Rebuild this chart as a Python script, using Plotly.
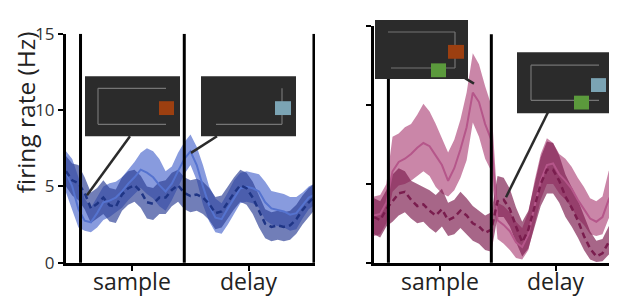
import plotly.graph_objects as go

# time grid (ms relative to sample onset)
time_ms = [-70 + 30 * k for k in range(41)]

# Left panel (blue)
left_solid_mean = [5.9, 5.0, 3.5, 2.75, 2.65, 3.25, 3.96, 4.07, 4.27, 4.67, 5.18, 5.6, 6.1, 5.9, 5.6, 5.08, 4.67, 5.18, 6.0, 6.8,
                   7.3, 6.4, 5.0, 3.76, 2.95, 2.85, 3.56, 4.27, 4.88, 4.98, 4.88, 4.67, 3.96, 3.56, 3.46, 3.36, 3.15, 3.25, 3.76, 4.27, 4.47]
left_solid_hi = [7.3, 6.8, 5.6, 4.2, 3.6, 4.3, 5.0, 5.2, 5.3, 5.6, 6.1, 6.6, 7.2, 7.5, 7.3, 6.8, 6.0, 6.3, 7.2, 7.9,
                 8.4, 7.6, 6.4, 5.0, 4.2, 3.9, 4.6, 5.4, 5.9, 6.0, 5.9, 5.8, 5.3, 4.7, 4.6, 4.5, 4.3, 4.3, 4.6, 5.0, 5.2]
left_solid_lo = [4.6, 3.5, 2.3, 2.1, 2.0, 2.3, 2.8, 3.0, 3.3, 3.6, 4.1, 4.5, 4.9, 4.5, 4.2, 3.7, 3.4, 4.1, 4.9, 5.8,
                 6.4, 5.4, 3.8, 2.7, 2.0, 1.9, 2.5, 3.2, 3.9, 4.0, 3.9, 3.6, 2.8, 2.5, 2.4, 2.3, 2.1, 2.2, 2.9, 3.5, 3.8]
left_dash_mean = [6.0, 5.4, 5.2, 4.57, 3.56, 3.86, 4.27, 3.76, 3.66, 4.47, 4.88, 5.08, 4.67, 3.96, 3.86, 4.27, 4.27, 4.77, 5.08, 4.57,
                  4.37, 4.47, 4.27, 3.86, 3.25, 3.36, 3.96, 4.57, 5.08, 4.88, 4.27, 3.36, 2.55, 2.35, 2.45, 2.35, 2.45, 2.85, 3.46, 3.96, 4.37]
left_dash_hi = [7.0, 6.5, 6.4, 5.6, 4.6, 4.9, 5.4, 4.9, 4.8, 5.6, 6.0, 6.1, 5.7, 5.0, 4.9, 5.3, 5.4, 5.9, 6.1, 5.6,
                5.4, 5.5, 5.3, 4.9, 4.3, 4.4, 5.0, 5.6, 6.1, 5.9, 5.3, 4.4, 3.5, 3.3, 3.4, 3.3, 3.4, 3.8, 4.4, 4.9, 5.2]
left_dash_lo = [5.0, 4.4, 4.1, 3.5, 2.6, 2.9, 3.2, 2.7, 2.6, 3.4, 3.8, 4.0, 3.6, 2.9, 2.8, 3.2, 3.2, 3.7, 4.0, 3.5,
                3.3, 3.4, 3.2, 2.8, 2.2, 2.3, 2.9, 3.5, 4.0, 3.8, 3.2, 2.3, 1.6, 1.4, 1.5, 1.4, 1.5, 1.9, 2.5, 3.0, 3.5]

# Right panel (pink)
right_solid_mean = [3.0, 3.1, 3.8, 5.8, 6.4, 6.6, 6.9, 7.3, 7.6, 7.4, 6.8, 6.2, 5.2, 6.0, 7.2, 8.6, 10.8, 10.2, 8.8, 7.8,
                    2.7, 2.4, 2.0, 1.3, 1.0, 1.8, 3.6, 5.2, 6.2, 6.3, 5.6, 5.2, 4.7, 4.0, 3.4, 2.8, 2.6, 2.9, 4.0, 4.8, 5.0]
right_solid_hi = [4.2, 4.3, 5.0, 8.0, 8.2, 8.6, 8.8, 9.4, 10.1, 9.6, 8.8, 7.9, 7.0, 7.8, 9.1, 10.8, 13.3, 12.6, 11.2, 10.0,
                  3.8, 3.6, 3.2, 2.6, 2.2, 3.2, 5.2, 6.9, 7.9, 7.6, 6.9, 6.6, 6.1, 5.4, 4.8, 4.1, 3.9, 4.2, 5.8, 6.8, 7.0]
right_solid_lo = [1.7, 1.8, 2.5, 4.5, 4.9, 5.0, 5.2, 5.5, 5.8, 5.5, 4.8, 4.4, 4.2, 4.6, 5.4, 6.5, 8.9, 8.0, 6.6, 5.8,
                  1.5, 1.2, 0.8, 0.3, 0.2, 0.8, 2.4, 4.0, 5.0, 5.0, 4.4, 4.0, 3.5, 2.8, 2.4, 1.8, 1.7, 1.8, 2.8, 3.3, 3.4]
right_dash_mean = [2.9, 2.7, 3.4, 3.9, 4.4, 4.5, 4.0, 3.6, 3.7, 3.3, 3.0, 3.4, 2.7, 2.9, 3.3, 3.0, 2.5, 2.3, 1.9, 2.1,
                   3.9, 4.0, 3.4, 2.3, 1.3, 2.1, 3.6, 5.0, 5.9, 5.9, 5.2, 4.2, 3.5, 2.7, 1.7, 0.9, 0.4, 0.6, 1.3, 1.9, 2.2]
right_dash_hi = [4.1, 3.9, 4.6, 5.6, 6.0, 5.8, 5.2, 5.0, 4.8, 4.6, 4.3, 4.7, 3.8, 4.0, 4.5, 4.1, 3.6, 3.3, 3.0, 3.2,
                 5.5, 5.4, 4.7, 3.5, 2.6, 3.3, 5.0, 6.7, 7.7, 7.6, 6.8, 5.6, 4.8, 4.0, 3.0, 2.0, 1.4, 1.5, 2.3, 2.9, 3.2]
right_dash_lo = [1.8, 1.6, 2.3, 2.6, 3.0, 3.2, 2.8, 2.5, 2.6, 2.2, 1.9, 2.3, 1.7, 1.8, 2.2, 1.8, 1.4, 1.2, 0.8, 0.7,
                 2.9, 2.9, 2.3, 1.3, 0.4, 0.9, 2.3, 3.6, 4.4, 4.4, 3.8, 2.9, 2.3, 1.6, 0.8, 0.2, 0.05, 0.1, 0.5, 1.0, 1.3]

period_lines_ms = [0, 500, 1125]
tick_vals_ms = [250, 813]
tick_text = ["sample", "delay"]
y_tick_vals = [0, 5, 10, 15]

W, H = 617, 298


def pxx(x):
    return x / W


def pyy(y):
    return 1 - y / H


fig = go.Figure()


def add_band(lo, hi, color, xa, ya):
    fig.add_trace(go.Scatter(x=time_ms, y=lo, mode="lines", line=dict(width=0), hoverinfo="skip",
                             showlegend=False, xaxis=xa, yaxis=ya))
    fig.add_trace(go.Scatter(x=time_ms, y=hi, mode="lines", line=dict(width=0), fill="tonexty",
                             fillcolor=color, hoverinfo="skip", showlegend=False, xaxis=xa, yaxis=ya))


def add_line(y, color, dash, width, xa, ya):
    fig.add_trace(go.Scatter(x=time_ms, y=y, mode="lines", line=dict(color=color, width=width, dash=dash),
                             showlegend=False, xaxis=xa, yaxis=ya))


# left panel
add_band(left_solid_lo, left_solid_hi, "rgba(72,102,204,0.65)", "x", "y")
add_band(left_dash_lo, left_dash_hi, "rgba(45,65,150,0.68)", "x", "y")
add_line(left_solid_mean, "#5573cf", "solid", 2, "x", "y")
add_line(left_dash_mean, "#1f3585", "6px,4px", 2.5, "x", "y")

# right panel
add_band(right_solid_lo, right_solid_hi, "rgba(170,60,115,0.62)", "x2", "y2")
add_band(right_dash_lo, right_dash_hi, "rgba(125,30,80,0.68)", "x2", "y2")
add_line(right_solid_mean, "#b5568a", "solid", 2, "x2", "y2")
add_line(right_dash_mean, "#7a1d4e", "6px,4px", 2.5, "x2", "y2")

axis_common = dict(showline=True, linewidth=3, linecolor="black", ticks="outside", ticklen=5, tickwidth=2,
                   tickcolor="black", showgrid=False, zeroline=False, mirror=False)

fig.update_layout(
    width=W, height=H, autosize=False,
    margin=dict(l=0, r=0, t=0, b=0),
    paper_bgcolor="white", plot_bgcolor="rgba(0,0,0,0)",
    font=dict(family="Open Sans", color="#333333"),
    xaxis=dict(domain=[pxx(58), pxx(307)], range=[-70, 1130], tickvals=tick_vals_ms, showticklabels=False,
               **axis_common),
    yaxis=dict(domain=[1 - 263 / H, 1 - 15 / H], range=[0, 15], tickvals=y_tick_vals,
               tickfont=dict(size=17, color="#333333"), anchor="x", **axis_common),
    xaxis2=dict(domain=[pxx(366), pxx(613)], range=[-70, 1130], tickvals=tick_vals_ms, showticklabels=False,
                anchor="y2", **axis_common),
    yaxis2=dict(domain=[1 - 263 / H, 1 - 7 / H], range=[0, 15], tickvals=y_tick_vals, showticklabels=False,
                anchor="x2", **axis_common),
)

shapes = []
# period boundary lines
for xa, ya, top in (("x", "y", 15), ("x2", "y2", 14.5)):
    for t in period_lines_ms:
        shapes.append(dict(type="line", xref=xa, yref=ya, x0=t, x1=t, y0=-0.3, y1=top,
                           line=dict(color="black", width=3), layer="above"))

BOX = "#2b2b2b"
GRID = "#757575"
ORANGE = "#9c3f10"
BLUE = "#7ba4b4"
GREEN = "#5b9a3c"


def rect(x0, y0, x1, y1, color):
    shapes.append(dict(type="rect", xref="paper", yref="paper", x0=pxx(x0), x1=pxx(x1), y0=pyy(y1), y1=pyy(y0),
                       fillcolor=color, line=dict(width=0), layer="above"))


def seg(x0, y0, x1, y1, color, width):
    shapes.append(dict(type="line", xref="paper", yref="paper", x0=pxx(x0), x1=pxx(x1), y0=pyy(y0), y1=pyy(y1),
                       line=dict(color=color, width=width), layer="above"))


# connectors
seg(122, 126, 79, 190, BOX, 2.5)
seg(209, 126, 183, 144, BOX, 2.5)
seg(457, 63, 466, 69, BOX, 2.5)
seg(540, 100, 498, 192, BOX, 2.5)

# inset 1
rect(77, 61, 172, 126, BOX)
seg(90, 74, 158, 74, GRID, 1.2)
seg(90, 74, 90, 113, GRID, 1.2)
seg(90, 113, 158, 113, GRID, 1.2)
rect(151, 88, 166, 103, ORANGE)
# inset 2
rect(193, 61, 288, 126, BOX)
seg(274, 74, 274, 113, GRID, 1.2)
seg(208, 113, 274, 113, GRID, 1.2)
rect(267, 88, 283, 103, BLUE)
# inset 3
rect(367, 0, 460, 64, BOX)
seg(380, 13, 447, 13, GRID, 1.2)
seg(447, 13, 447, 52, GRID, 1.2)
seg(383, 52, 447, 52, GRID, 1.2)
rect(440, 27, 456, 42, ORANGE)
rect(423, 47, 438, 62, GREEN)
# inset 4
rect(509, 35, 611, 101, BOX)
seg(523, 49, 523, 87, GRID, 1.2)
seg(523, 49, 591, 49, GRID, 1.2)
seg(523, 87, 591, 87, GRID, 1.2)
rect(583, 63, 598, 78, BLUE)
rect(566, 82, 581, 97, GREEN)

fig.update_layout(shapes=shapes)

# period labels under each panel
for xa in ("x", "x2"):
    for tv, tt in zip(tick_vals_ms, tick_text):
        fig.add_annotation(text=tt, xref=xa, yref="paper", x=tv, y=pyy(283), showarrow=False,
                           xanchor="center", yanchor="middle",
                           font=dict(size=23, color="#222222", family="Open Sans"))

fig.add_annotation(text="firing rate (Hz)", xref="paper", yref="paper", x=pxx(17), y=pyy(100),
                   textangle=-90, showarrow=False, font=dict(size=24.5, color="#222222", family="Open Sans"),
                   xanchor="center", yanchor="middle")

fig.write_html("out.html")
